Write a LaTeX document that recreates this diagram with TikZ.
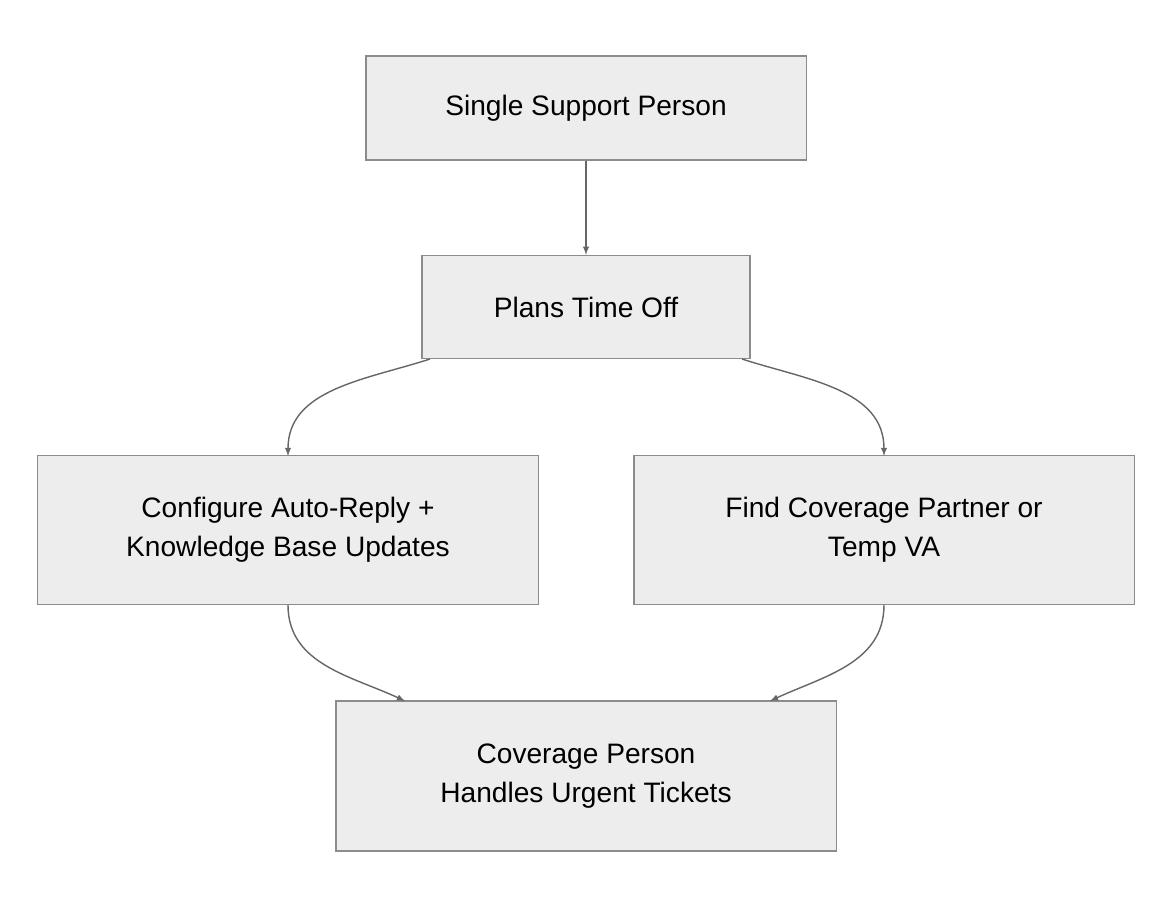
\documentclass[tikz,border=0pt]{standalone}
\usepackage{fontspec}
\setmainfont{Liberation Sans}
\usetikzlibrary{positioning}

\begin{document}
\begin{tikzpicture}[%
    x=0.025cm, y=-0.025cm,
    >=latex,
    flow/.style={%
      ->,
      draw=black!60,
      line width=1pt
    },
    stepbox/.style={%
      rectangle,
      draw=black!45,
      fill=black!7,
      line width=0.8pt,
      align=center,
      font=\fontsize{20}{28}\selectfont
    }
  ]
    \useasboundingbox (0,0) rectangle (1172,908);
    \node[stepbox, minimum width=11cm, minimum height=2.6cm] (single) at (586,108) {Single Support Person};
    \node[stepbox, minimum width=8.2cm, minimum height=2.58cm] (plans) at (586,307) {Plans Time Off};
    \node[stepbox, minimum width=12.5cm, minimum height=3.72cm] (config) at (288,530) {Configure Auto-Reply +\\Knowledge Base Updates};
    \node[stepbox, minimum width=12.5cm, minimum height=3.72cm] (find) at (884,530) {Find Coverage Partner or\\Temp VA};
    \node[stepbox, minimum width=12.5cm, minimum height=3.75cm] (cover) at (586,776) {Coverage Person\\Handles Urgent Tickets};

    \coordinate (p1) at (430,359);
    \coordinate (p2) at (742,359);
    \coordinate (c1) at (288,456);
    \coordinate (d1) at (884,456);
    \coordinate (c2) at (288,605);
    \coordinate (d2) at (884,605);
    \coordinate (e1) at (405,701);
    \coordinate (e2) at (770,701);

    \draw[flow] (single) -- (plans);
    \draw[flow] (p1) to[out=198, in=90] (c1);
    \draw[flow] (p2) to[out=-18, in=90] (d1);
    \draw[flow] (c2) to[out=-90, in=155] (e1);
    \draw[flow] (d2) to[out=-90, in=25] (e2);
  \end{tikzpicture}
\end{document}
